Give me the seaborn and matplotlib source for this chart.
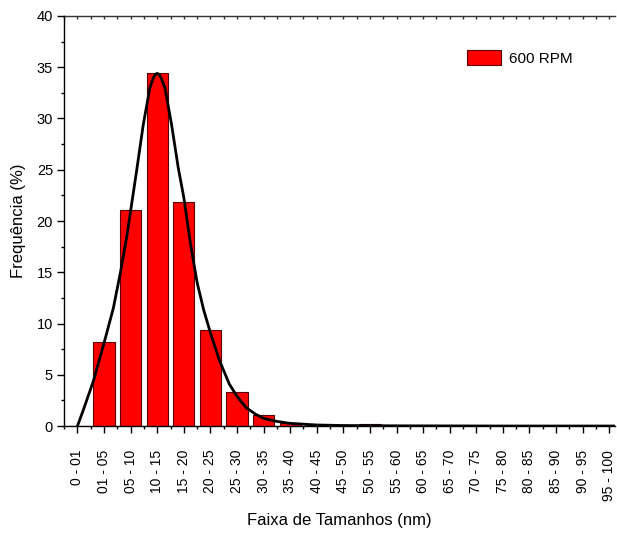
import matplotlib
matplotlib.use('Agg')
import matplotlib.pyplot as plt
from matplotlib.ticker import MultipleLocator, NullFormatter
import seaborn as sns
import pandas as pd

sns.set_theme(style="ticks")
plt.rcParams['font.family'] = ['Liberation Sans', 'DejaVu Sans']
plt.rcParams.update({'text.color': 'black', 'axes.labelcolor': 'black',
                     'xtick.color': 'black', 'ytick.color': 'black'})

# size classes and measured frequency (%)
categories = ['0 - 01', '01 - 05', '05 - 10', '10 - 15', '15 - 20', '20 - 25', '25 - 30',
              '30 - 35', '35 - 40', '40 - 45', '45 - 50', '50 - 55', '55 - 60', '60 - 65',
              '65 - 70', '70 - 75', '75 - 80', '80 - 85', '85 - 90', '90 - 95', '95 - 100']
frequency = [0.0, 8.2, 21.1, 34.4, 21.9, 9.4, 3.3, 1.1, 0.3, 0.1, 0.0, 0.15,
             0.0, 0.0, 0.0, 0.0, 0.0, 0.0, 0.0, 0.0, 0.0]

# fitted curve (x in category units)
fit_x = [0.0, 0.225, 0.4, 0.6, 1.0, 1.35, 1.625, 1.85, 2.0, 2.225, 2.475, 2.725, 2.86, 2.93,
         3.0, 3.07, 3.14, 3.29, 3.54, 3.79, 4.0, 4.25, 4.5, 4.75, 5.0, 5.34, 5.71, 6.0,
         6.34, 6.7, 7.0, 7.5, 8.0, 9.0, 10.0, 12.0, 16.0, 20.2]
fit_y = [0.0, 1.6, 2.9, 4.4, 8.1, 11.5, 15.1, 18.4, 21.0, 24.9, 29.4, 33.0, 34.0, 34.3,
         34.4, 34.3, 34.0, 33.0, 29.4, 25.2, 22.3, 17.8, 14.0, 11.3, 9.1, 6.4, 4.1, 2.9,
         1.8, 1.15, 0.75, 0.45, 0.26, 0.1, 0.05, 0.02, 0.0, 0.0]

df = pd.DataFrame({'faixa': categories, 'freq': frequency})

fig = plt.figure(figsize=(6.17, 5.33), dpi=100)
ax = fig.add_axes([0.104, 0.2007, 0.892, 0.7693])

sns.barplot(data=df, x='faixa', y='freq', color='#FF0000', saturation=1, width=0.8,
            edgecolor='#5a0000', linewidth=0.8, ax=ax, label='600 RPM')
ax.plot(fit_x, fit_y, color='black', lw=2.0, zorder=5, solid_joinstyle='round')

ax.set_xlim(-0.5, 20.2)
ax.set_ylim(0, 40)
ax.yaxis.set_major_locator(MultipleLocator(5))
ax.yaxis.set_minor_locator(MultipleLocator(2.5))
ax.xaxis.set_minor_locator(MultipleLocator(0.5))

ax.set_xticks(range(len(categories)))
ax.set_xticklabels(categories, rotation=90, fontsize=10)
ax.tick_params(axis='y', labelsize=10.5, pad=3)
ax.tick_params(axis='x', pad=12)
ax.tick_params(which='major', direction='out', length=5, width=1, color='black')
ax.tick_params(which='minor', direction='out', length=2.5, width=1, color='black')

# small inward ticks along the top frame
top = ax.secondary_xaxis('top')
top.xaxis.set_major_locator(MultipleLocator(0.5))
top.xaxis.set_major_formatter(NullFormatter())
top.tick_params(direction='in', length=2, width=1, color='#333333')
top.spines['top'].set_color('#333333')
top.spines['top'].set_linewidth(1.0)

ax.set_xlabel('Faixa de Tamanhos (nm)', fontsize=12, labelpad=9)
ax.set_ylabel('Frequência (%)', fontsize=12, labelpad=8)

for s in ['left', 'bottom']:
    ax.spines[s].set_color('black')
    ax.spines[s].set_linewidth(1.0)
ax.spines['right'].set_visible(False)
ax.spines['top'].set_visible(False)

leg = ax.legend(loc='upper right', bbox_to_anchor=(0.948, 0.95), frameon=False,
                fontsize=11, handlelength=2.2, handleheight=1.1, handletextpad=0.5,
                borderaxespad=0.5)

fig.savefig('out.png', dpi=100)
